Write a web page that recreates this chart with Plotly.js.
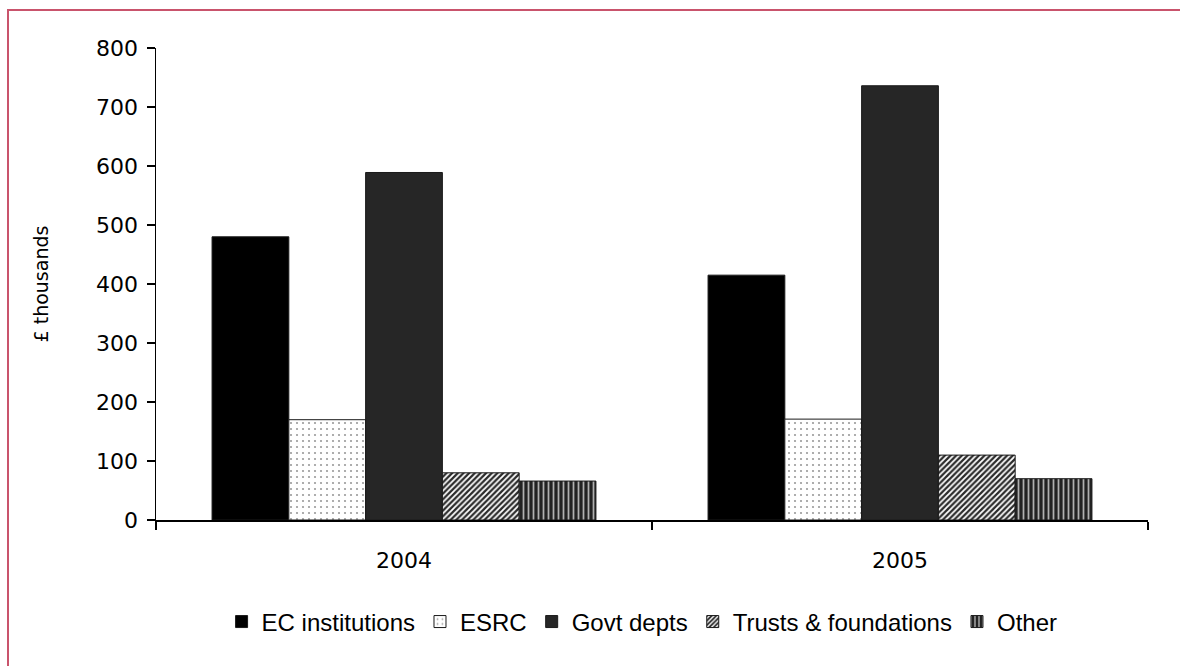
<!DOCTYPE html>
<html>
<head>
<meta charset="utf-8">
<script src="https://cdn.plot.ly/plotly-3.0.1.min.js"></script>
<style>
  html, body { margin: 0; padding: 0; background: #fff; }
  #wrap { position: relative; width: 1180px; height: 666px; overflow: hidden; }
  #frame { position: absolute; left: 7px; top: 9px; width: 1200px; height: 700px;
           border-left: 2px solid #c9546c; border-top: 2px solid #c9546c; pointer-events: none; }
  #chart { position: absolute; left: 0; top: 0; width: 1180px; height: 666px; }
</style>
</head>
<body>
<div id="wrap">
  <div id="chart"></div>
  <div id="frame"></div>
</div>
<script>
// Research income by funder, £ thousands
const years = ['2004', '2005'];
const ecInstitutions = [480, 415];
const esrc = [170, 171];
const govtDepts = [589, 736];
const trustsFoundations = [80, 110];
const other = [66, 70];

const edge = { color: '#1a1a1a', width: 1 };

const traces = [
  { name: 'EC institutions', y: ecInstitutions,
    marker: { color: '#000000', line: edge } },
  { name: 'ESRC', y: esrc,
    marker: { color: '#ffffff', line: edge,
      pattern: { shape: '.', bgcolor: '#ffffff', fgcolor: '#9a9a9a', size: 6, solidity: 0.1 } } },
  { name: 'Govt depts', y: govtDepts,
    marker: { color: '#262626', line: edge } },
  { name: 'Trusts & foundations', y: trustsFoundations,
    marker: { color: '#2a2a2a', line: edge,
      pattern: { shape: '/', bgcolor: '#2a2a2a', fgcolor: '#ffffff', size: 4, solidity: 0.45 } } },
  { name: 'Other', y: other,
    marker: { color: '#222222', line: edge,
      pattern: { shape: '|', bgcolor: '#222222', fgcolor: '#b0b0b0', size: 5, solidity: 0.35 } } }
].map(t => Object.assign({ type: 'bar', x: years, hoverinfo: 'skip' }, t));

const tickFont = { family: 'DejaVu Sans, Verdana, sans-serif', size: 22, color: '#000' };
const titleFont = { family: 'DejaVu Sans, Verdana, sans-serif', size: 19, color: '#000' };

const layout = {
  width: 1180, height: 666,
  margin: { l: 156, r: 32, t: 48, b: 146 },
  paper_bgcolor: 'rgba(0,0,0,0)',
  plot_bgcolor: '#ffffff',
  barmode: 'group',
  bargap: 0.226,
  bargroupgap: 0,
  showlegend: true,
  legend: {
    orientation: 'h', x: 0.49, xanchor: 'center', y: -0.216, yanchor: 'middle',
    font: { family: 'Liberation Sans, Arial, sans-serif', size: 24, color: '#000' },
    itemwidth: 30, tracegroupgap: 0
  },
  xaxis: {
    type: 'category',
    showline: true, linecolor: '#000', linewidth: 1.5,
    ticks: 'outside', tickson: 'boundaries', ticklen: 8, tickcolor: '#000', tickwidth: 1.5,
    ticklabelstandoff: 20,
    showgrid: false, zeroline: false,
    tickfont: tickFont
  },
  yaxis: {
    range: [0, 800], dtick: 100,
    showline: true, linecolor: '#000', linewidth: 1.5,
    ticks: 'outside', ticklen: 8, tickcolor: '#000', tickwidth: 1.5,
    ticklabelstandoff: 4,
    showgrid: false, zeroline: false,
    tickfont: tickFont,
    title: { text: '£ thousands', font: titleFont, standoff: 42 }
  }
};

Plotly.newPlot('chart', traces, layout, { displayModeBar: false, staticPlot: true });
</script>
</body>
</html>
